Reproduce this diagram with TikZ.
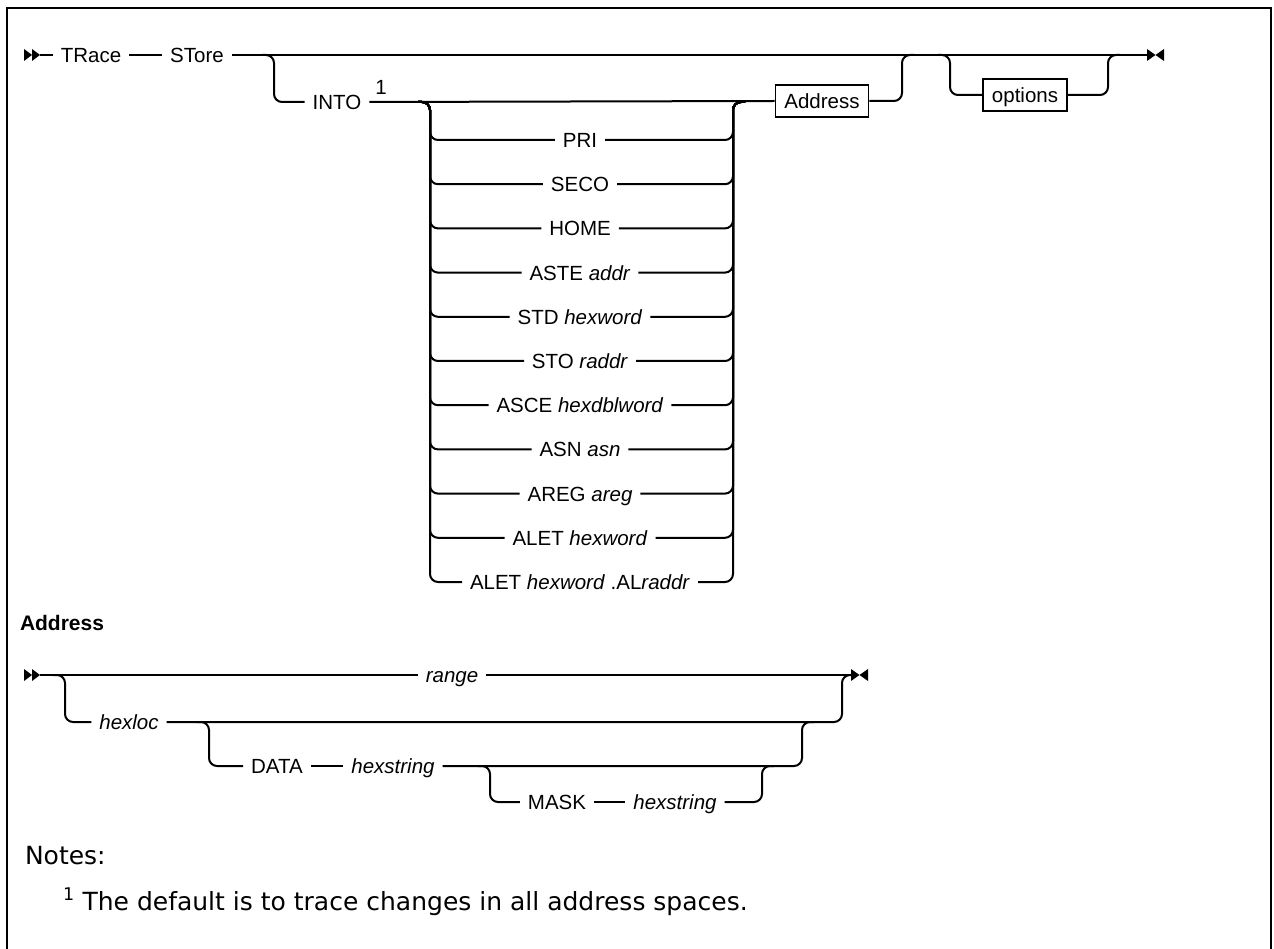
\documentclass[tikz,border=0pt]{standalone}
\usepackage{fontspec}
\setmainfont{Liberation Sans}
\newfontfamily\notefont{DejaVu Sans}
\begin{document}
\begin{tikzpicture}[x=1pt,y=-1pt,line width=2pt,
  lbl/.style={inner xsep=7pt,inner ysep=0pt,text height=15pt,text depth=0pt,font=\fontsize{20.5}{24}\selectfont},
  box/.style={lbl,draw,line width=1.6pt,inner ysep=8.5pt,inner xsep=9pt},
  rc/.style={rounded corners=8pt},
  notef/.style={inner sep=0pt,font=\notefont\fontsize{25}{30}\selectfont}]
\useasboundingbox (0,0) rectangle (1274,949);
% frame
\draw[line width=2pt] (7,949) -- (7,8) -- (1271,8) -- (1271,949);

% ---------- main diagram ----------
\fill (24,49) -- (32,55) -- (24,61) -- cycle;
\fill (32,49) -- (40,55) -- (32,61) -- cycle;
\coordinate (s1) at (40,55);
\node[lbl] (trace) at (91,55) {TRace};
\node[lbl] (store) at (197,55) {STore};
\coordinate (e1) at (1147,55);
\fill (1147,49) -- (1155.5,55) -- (1147,61) -- cycle;
\fill (1164,49) -- (1155.5,55) -- (1164,61) -- cycle;
\draw (s1) -- (trace.west);
\draw (trace.east) -- (store.west);
\draw (store.east) -- (e1);

% INTO branch
\node[lbl] (into) at (337,102) {INTO};
\node[lbl,inner xsep=0pt] (fn) at (381,87) {1};
\coordinate (b1) at (262,55);
\draw[rc] (b1) -- (274,55) -- (274,102) -- (into.west);
\node[box] (addr) at (822,101) {Address};
\draw (into.east) -- (addr.west);
\coordinate (b2) at (914,55);
\draw[rc] (addr.east) -- (902,101) -- (902,55) -- (b2);

% stack
\foreach \i/\t in {0/PRI,1/SECO,2/HOME,3/ASTE \textit{addr},4/STD \textit{hexword},5/STO \textit{raddr},6/ASCE \textit{hexdblword},7/ASN \textit{asn},8/AREG \textit{areg},9/ALET \textit{hexword},10/ALET \textit{hexword} .AL\textit{raddr}}{
  \pgfmathsetmacro\yy{140+44.2*\i}
  \node[lbl] (r\i) at (580,\yy) {\t};
  \draw[rc] (418,102) -- (430,102) -- (430,\yy) -- (r\i.west);
  \draw[rc] (r\i.east) -- (733,\yy) -- (733,102) -- (745,102);
}

% options branch
\node[box] (opt) at (1025,95) {options};
\coordinate (b3) at (938,55);
\coordinate (b4) at (1120,55);
\draw[rc] (b3) -- (950,55) -- (950,95) -- (opt.west);
\draw[rc] (opt.east) -- (1108,95) -- (1108,55) -- (b4);

% ---------- Address diagram ----------
\node[anchor=base west,inner sep=0pt,font=\fontsize{21}{25}\selectfont\bfseries] (ahead) at (19,630) {Address};
\fill (24,669) -- (32,675) -- (24,681) -- cycle;
\fill (32,669) -- (40,675) -- (32,681) -- cycle;
\coordinate (s2) at (40,675);
\node[lbl] (range) at (452,675) {\textit{range}};
\coordinate (e2) at (851,675);
\fill (851,669) -- (859.5,675) -- (851,681) -- cycle;
\fill (868,669) -- (859.5,675) -- (868,681) -- cycle;
\draw (s2) -- (range.west);
\draw (range.east) -- (e2);

\node[lbl] (hexloc) at (129,722) {\textit{hexloc}};
\coordinate (c1) at (53,675);
\draw[rc] (c1) -- (65,675) -- (65,722) -- (hexloc.west);
\draw[rc] (hexloc.east) -- (842,722) -- (842,675) -- (e2);

\node[lbl] (data) at (277,766) {DATA};
\node[lbl] (hs1) at (393,766) {\textit{hexstring}};
\coordinate (c2) at (197,722);
\coordinate (c3) at (814,722);
\draw[rc] (c2) -- (209,722) -- (209,766) -- (data.west);
\draw (data.east) -- (hs1.west);
\draw[rc] (hs1.east) -- (802,766) -- (802,722) -- (c3);

\node[lbl] (mask) at (557,802) {MASK};
\node[lbl] (hs2) at (675,802) {\textit{hexstring}};
\coordinate (c4) at (478,766);
\coordinate (c5) at (774,766);
\draw[rc] (c4) -- (490,766) -- (490,802) -- (mask.west);
\draw (mask.east) -- (hs2.west);
\draw[rc] (hs2.east) -- (762,802) -- (762,766) -- (c5);

% ---------- notes ----------
\node[notef,anchor=base west] (notes) at (24,864) {Notes:};
\node[notef,anchor=base west] (fnote) at (62,910) {\textsuperscript{1} The default is to trace changes in all address spaces.};
\end{tikzpicture}
\end{document}
